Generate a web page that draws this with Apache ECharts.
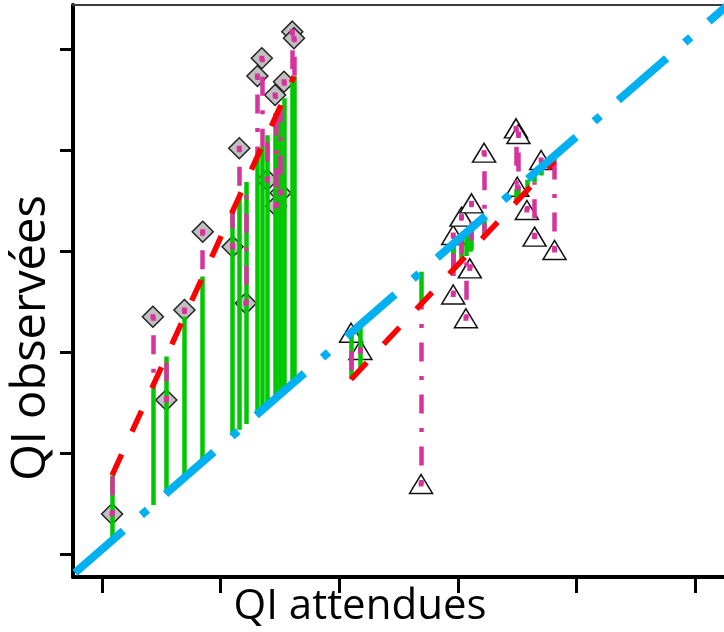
<!DOCTYPE html>
<html><head><meta charset="utf-8">
<script src="https://cdn.jsdelivr.net/npm/echarts@6/dist/echarts.min.js"></script>
<style>html,body{margin:0;padding:0;background:#fff;overflow:hidden}#c{width:724px;height:632px}</style>
</head><body><div id="c"></div>
<script>
// tick positions (no labels shown)
const xTicks = [70, 80, 90, 100, 110, 120];
const yTicks = [69.49, 79.28, 89.08, 98.87, 108.67, 118.46];

// group 1 (diamonds): expected IQ, observed IQ, fitted value
const diamondX   = [70.86, 74.30, 75.43, 76.96, 78.50, 81.02, 81.58, 82.14, 83.11, 83.48, 83.93, 84.60, 84.68, 85.06, 85.35, 86.05, 86.19];
const diamondY   = [73.42, 92.54, 84.47, 93.19, 100.78, 99.33, 108.87, 93.84, 115.87, 117.59, 105.79, 114.03, 103.27, 104.53, 115.32, 120.17, 119.53];
const diamondFit = [77.16, 85.84, 88.68, 92.55, 96.43, 102.78, 104.19, 105.61, 108.07, 109.00, 110.12, 111.82, 112.03, 112.98, 113.72, 115.48, 115.84];

// group 2 (triangles)
const triX   = [91.00, 91.79, 96.90, 99.61, 99.61, 100.31, 100.68, 101.01, 101.15, 102.21, 104.90, 105.01, 105.11, 105.82, 106.47, 107.02, 108.15];
const triY   = [90.99, 89.32, 76.33, 94.70, 100.46, 102.24, 92.39, 97.23, 103.53, 108.44, 110.80, 105.14, 110.25, 102.89, 100.30, 107.73, 99.01];
const triFit = [86.47, 87.44, 93.76, 97.10, 97.10, 97.96, 98.42, 98.83, 98.99, 100.31, 103.62, 103.76, 103.88, 104.76, 105.56, 106.24, 107.63];

// identity line (observed = expected)
const identityEnds = [67.735, 123];

const xRange = [67.567, 122.432];
const yRange = [67.313, 122.755];

const MAG = '#d6339c', GREEN = '#00c800', RED = '#ff0000', BLUE = '#00b0f0';

const allX = diamondX.concat(triX), allY = diamondY.concat(triY), allFit = diamondFit.concat(triFit);
const greenData = allX.map((x, i) => ({coords: [[x, x], [x, allFit[i]]]}));
const magData = allX.map((x, i) => ({coords: [[x, allY[i]], [x, allFit[i]]]}));

const chart = echarts.init(document.getElementById('c'), null, {renderer: 'canvas'});
chart.setOption({
  animation: false,
  backgroundColor: '#fff',
  grid: {left: 73, right: -3, top: 5, bottom: 55, containLabel: false},
  xAxis: [{
    type: 'value', min: xRange[0], max: xRange[1], position: 'bottom',
    axisLine: {show: true, onZero: false, lineStyle: {color: '#000', width: 4}},
    axisTick: {show: true, customValues: xTicks, length: 16, lineStyle: {color: '#000', width: 3}},
    axisLabel: {show: false, customValues: xTicks},
    splitLine: {show: false}
  }, {
    type: 'value', min: xRange[0], max: xRange[1], position: 'top',
    axisLine: {show: true, onZero: false, lineStyle: {color: '#3c3c3c', width: 2}},
    axisTick: {show: false}, axisLabel: {show: false}, splitLine: {show: false}
  }],
  yAxis: [{
    type: 'value', min: yRange[0], max: yRange[1],
    axisLine: {show: true, onZero: false, lineStyle: {color: '#000', width: 4}},
    axisTick: {show: true, customValues: yTicks, length: 13, lineStyle: {color: '#000', width: 3}},
    axisLabel: {show: false, customValues: yTicks},
    splitLine: {show: false}
  }],
  series: [
    {type: 'scatter', symbol: 'diamond', symbolSize: 21, z: 1,
     itemStyle: {color: '#c0c0c0', borderColor: '#222', borderWidth: 1.5, opacity: 1},
     data: diamondX.map((x, i) => [x, diamondY[i]])},
    {type: 'scatter', symbol: 'triangle', symbolSize: [23, 19], z: 1,
     itemStyle: {color: '#ffffff', borderColor: '#111', borderWidth: 1.5, opacity: 1},
     data: triX.map((x, i) => [x, triY[i]])},
    {type: 'lines', coordinateSystem: 'cartesian2d', z: 2, silent: true,
     lineStyle: {color: GREEN, width: 4.5, opacity: 1, type: 'solid'}, data: greenData},
    {type: 'lines', coordinateSystem: 'cartesian2d', z: 3, silent: true,
     lineStyle: {color: MAG, width: 4.5, opacity: 1, type: [4, 14.5, 19, 14.5], cap: 'butt'}, data: magData},
    {type: 'scatter', symbol: 'rect', symbolSize: 5, z: 3, silent: true,
     itemStyle: {color: MAG, opacity: 1}, data: allX.map((x, i) => [x, allY[i]])},
    {type: 'line', z: 4, showSymbol: false, silent: true,
     lineStyle: {color: RED, width: 5.5, type: [23, 25], cap: 'butt'},
     data: diamondX.map((x, i) => [x, diamondFit[i]])},
    {type: 'line', z: 4, showSymbol: false, silent: true,
     lineStyle: {color: RED, width: 5.5, type: [23, 25], cap: 'butt'},
     data: triX.map((x, i) => [x, triFit[i]])},
    {type: 'line', z: 5, showSymbol: false, silent: true, clip: true,
     lineStyle: {color: BLUE, width: 8, type: [64, 24, 8, 24], cap: 'butt'},
     data: identityEnds.map(v => [v, v])}
  ],
  graphic: [
    {type: 'text', x: 360, y: 607, z: 10,
     style: {text: 'QI attendues', font: '42px "Open Sans"', fill: '#000', align: 'center', verticalAlign: 'middle'}},
    {type: 'text', x: 32, y: 338, rotation: Math.PI / 2, z: 10,
     style: {text: 'QI observées', font: '47px "Open Sans"', fill: '#000', align: 'center', verticalAlign: 'middle'}}
  ]
});
</script></body></html>
